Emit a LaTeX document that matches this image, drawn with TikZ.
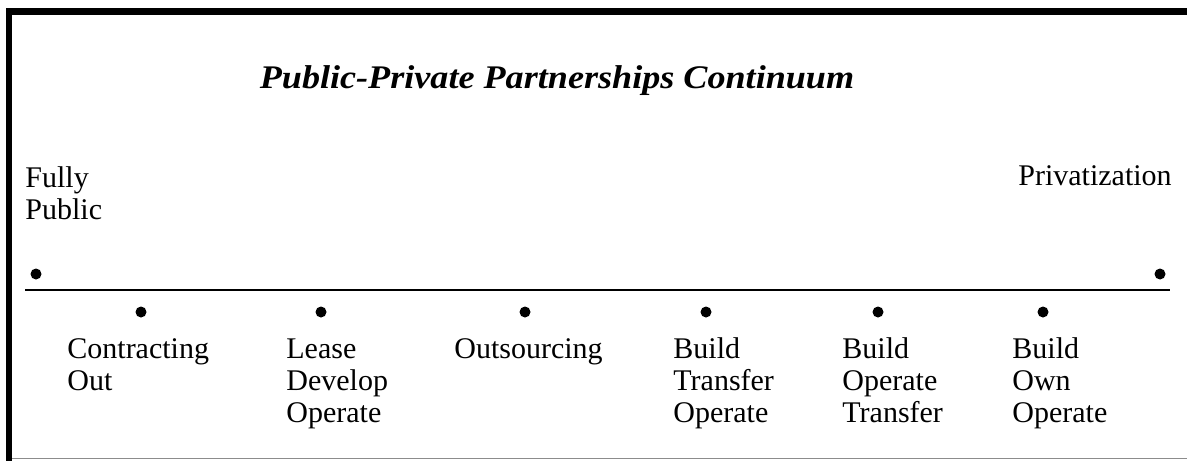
\documentclass[tikz,border=0pt]{standalone}
\usepackage{fontspec}
\setmainfont{Liberation Serif}
\begin{document}
\begin{tikzpicture}[x=0.5pt,y=-0.5pt,
  lbl/.style={anchor=base west,inner sep=0pt,align=left,
              font=\fontsize{15}{16}\selectfont},
  dot/.style={circle,fill=black,inner sep=0pt,minimum size=5.5pt},
  ttl/.style={inner sep=0pt,anchor=base,font=\fontsize{16.5}{18}\selectfont\bfseries\itshape}]
  \useasboundingbox (0,0) rectangle (1187,461);
  % frame: heavy top and left rules, light bottom rule
  \coordinate (tl) at (9,11.5);
  \coordinate (tr) at (1187,11.5);
  \coordinate (bl) at (9,461);
  \coordinate (bl2) at (12,458.5);
  \coordinate (br) at (1187,458.5);
  \draw[line width=3.5pt] (6,11.5) -- (tr);
  \draw[line width=3pt] (tl) -- (bl);
  \draw[line width=0.8pt,black!45] (bl2) -- (br);

  % title
  \node[ttl] (title) at (557,88) {\scalebox{1.095}[1]{Public-Private Partnerships Continuum}};

  % continuum ends (multi-line labels are placed by their last baseline)
  \node[lbl] (pub) at (25,219) {Fully\\Public};
  \node[lbl] (priv) at (1018,185) {Privatization};
  \node[dot] (dl) at (36,274) {};
  \node[dot] (dr) at (1160,274) {};

  % the continuum line
  \coordinate (la) at (25,290);
  \coordinate (lb) at (1170,290);
  \draw[line width=1.2pt] (la) -- (lb);

  % partnership forms
  \node[dot] (d1) at (141,312) {};
  \node[dot] (d2) at (321,312) {};
  \node[dot] (d3) at (525,312) {};
  \node[dot] (d4) at (706,312) {};
  \node[dot] (d5) at (878,312) {};
  \node[dot] (d6) at (1043,312) {};

  \node[lbl] (t1) at (67,390)   {Contracting\\Out};
  \node[lbl] (t2) at (286,422)  {Lease\\Develop\\Operate};
  \node[lbl] (t3) at (454,358)  {Outsourcing};
  \node[lbl] (t4) at (673,422)  {Build\\Transfer\\Operate};
  \node[lbl] (t5) at (842,422)  {Build\\Operate\\Transfer};
  \node[lbl] (t6) at (1012,422) {Build\\Own\\Operate};
\end{tikzpicture}
\end{document}
